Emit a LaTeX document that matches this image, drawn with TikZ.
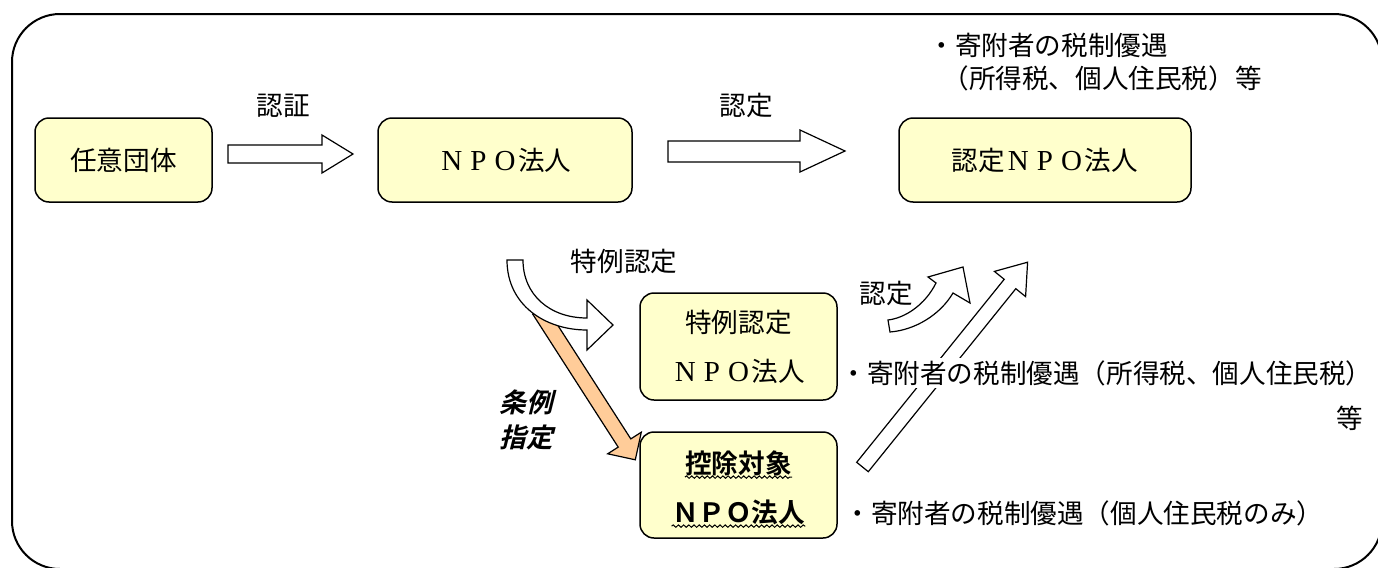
\documentclass[tikz,border=0pt]{standalone}
\usepackage{fontspec}
\setmainfont{Noto Sans CJK JP}[BoldFont={Noto Sans CJK JP Bold}]
\newfontfamily\latinserif{Liberation Serif}
\newfontfamily\joreifont{Noto Sans CJK JP Bold}[FakeSlant=0.25]
\usetikzlibrary{decorations.pathmorphing}
\definecolor{boxfill}{HTML}{FFFFCC}
\definecolor{orangefill}{HTML}{FFCC99}
\newcommand\sz{\fontsize{13.3pt}{16.5pt}\selectfont}
\newcommand\zw[1]{\makebox[1em]{\latinserif\fontsize{14.5pt}{16pt}\selectfont #1}}
\newcommand\npo{\zw{N}\zw{P}\zw{O}法人}

\tikzset{
  box/.style={draw, line width=0.75pt, fill=boxfill, rounded corners=7pt, minimum height=42pt, font=\sz},
  blockarrow/.style={draw, line width=0.6pt, fill=white, line join=miter},
  wavy/.style={decorate, decoration={snake, amplitude=0.6pt, segment length=2.6pt}, line width=0.5pt},
  lbl/.style={inner sep=0pt, font=\sz},
}

\begin{document}
\begin{tikzpicture}[x=0.5pt,y=-0.5pt]
\useasboundingbox (0,0) rectangle (1378,568);
% outer frame
\draw[line width=1pt, rounded corners=24pt] (12,14) rectangle (1382,569);

% block arrows
\draw[blockarrow] (228,145) -- (322,145) -- (322,135) -- (353,154) -- (322,173) -- (322,163) -- (228,163) -- cycle;
\draw[blockarrow] (668,141) -- (800,141) -- (800,130) -- (845,151) -- (800,172) -- (800,162) -- (668,162) -- cycle;
\draw[blockarrow, fill=orangefill] (545.3,305.9) -- (630.8,438.9) -- (641.3,432.2) -- (635.3,459.8) -- (607.7,453.8) -- (618.2,447.1) -- (532.7,314.1) -- cycle;
\draw[blockarrow] (507,260) -- (523,260) .. controls (523,295) and (550,318) .. (587,318) -- (587,300) -- (613,325) -- (587,350) -- (587,330) .. controls (545,330) and (507,305) .. (507,260) -- cycle;
\draw[blockarrow] (888,320) .. controls (905,318) and (925,305) .. (936,283) -- (928,277) -- (963,267) -- (970,303) -- (953,293) .. controls (940,315) and (915,330) .. (890,332) -- cycle;
\draw[blockarrow] (856.7,462.3) -- (1004.2,279.3) -- (994.4,271.4) -- (1027.6,262.2) -- (1025.6,296.6) -- (1015.8,288.7) -- (868.3,471.7) -- cycle;

% labels
\node[lbl] (ninsho) at (283,106) {認証};
\node[lbl] (nintei1) at (746,105) {認定};
\node[lbl] (tokureilbl) at (624,261) {特例認定};
\node[lbl] (nintei2) at (886,293) {認定};
\node[lbl, font=\fontsize{13.3pt}{17.5pt}\joreifont, align=center] (jorei) at (526,420) {条例\\指定};

% tax notes
\node[lbl, anchor=west] (toptax1) at (928,45) {・寄附者の税制優遇};
\node[lbl, anchor=west] (toptax2) at (942,78) {（所得税、個人住民税）等};
\node[lbl, anchor=west, fill=white, inner sep=1pt] (tax1) at (838,373) {・寄附者の税制優遇（所得税、個人住民税）};
\node[lbl] (tax1b) at (1350,418) {等};
\node[lbl, anchor=west] (tax2) at (844,513) {・寄附者の税制優遇（個人住民税のみ）};

% boxes
\node[box, minimum width=88.5pt] (nin) at (123.5,160) {任意団体};
\node[box, minimum width=127pt] (npo) at (505,160) {\npo};
\node[box, minimum width=146pt] (nintei) at (1045,160) {認定\npo};
\node[box, minimum width=98.5pt, minimum height=53.5pt, align=center, font=\fontsize{13.3pt}{24.5pt}\selectfont] (tokurei) at (738.5,346.5) {特例認定\\\npo};
\node[box, minimum width=98.5pt, minimum height=53pt] (kojo) at (738.5,485) {};
\node[lbl, font=\sz\bfseries] (kojo1) at (738.5,463) {控除対象};
\node[lbl, font=\sz\bfseries] (kojo2) at (738.5,512) {ＮＰＯ法人};
\draw[wavy] ([yshift=-2pt]kojo1.base west) -- ([yshift=-2pt]kojo1.base east);
\draw[wavy] ([yshift=-2pt]kojo2.base west) -- ([yshift=-2pt]kojo2.base east);
\end{tikzpicture}
\end{document}
